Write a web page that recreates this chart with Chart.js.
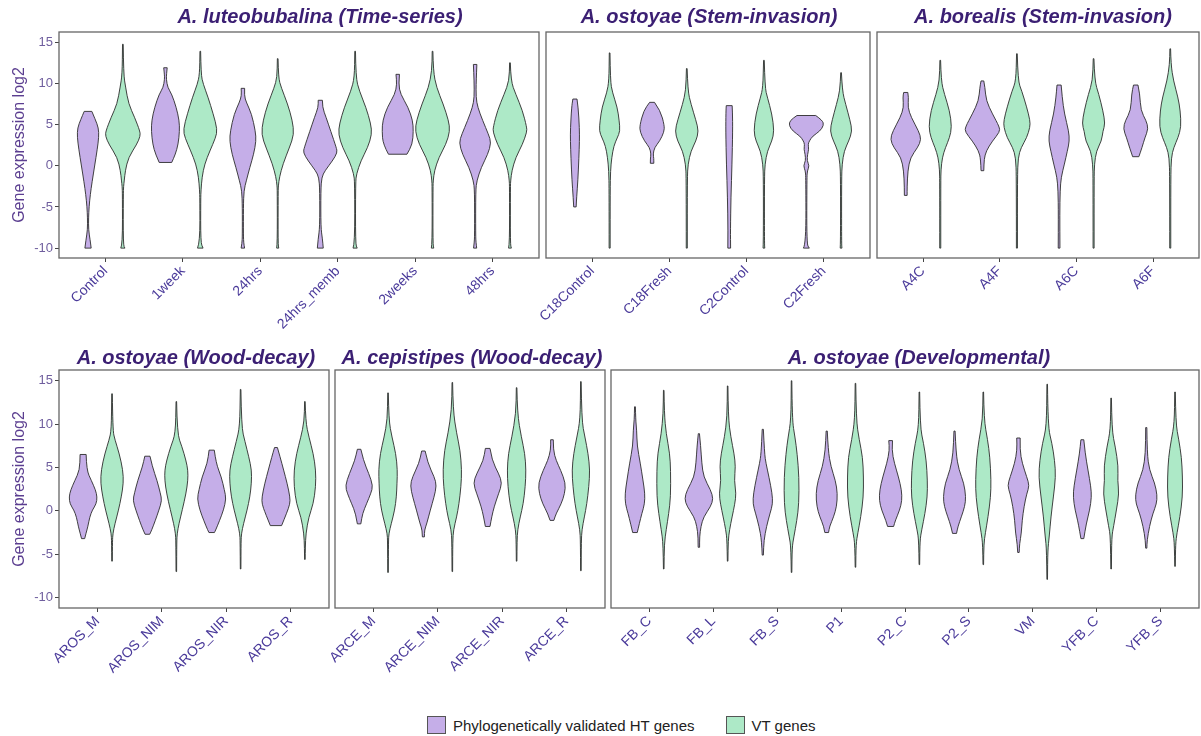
<!DOCTYPE html>
<html>
<head>
<meta charset="utf-8">
<script src="https://cdn.jsdelivr.net/npm/chart.js@4.4.1/dist/chart.umd.min.js"></script>
<style>
  body { margin: 0; background: #fff; width: 1201px; height: 736px; position: relative; overflow: hidden; font-family: "Liberation Sans", Arial, sans-serif; }
  canvas { position: absolute; }
  #legend { position: absolute; left: 427px; top: 716px; display: flex; align-items: center; font-size: 15px; color: #222; }
  #legend .sw { width: 17px; height: 16px; border: 1px solid #555; display: inline-block; }
  #legend .txt { margin-left: 7px; }
</style>
</head>
<body>
<div id="legend">
  <span class="sw" style="background:#c5aee8"></span><span class="txt">Phylogenetically validated HT genes</span>
  <span class="sw" style="background:#ade9c7;margin-left:31px"></span><span class="txt">VT genes</span>
</div>
<script>
// violin profiles: [log2 value, relative density width]

// A. luteobubalina (Time-series)
const lutCats = ['Control', '1week', '24hrs', '24hrs_memb', '2weeks', '48hrs'];
const lutHT = [
  [[-10,.18],[-9,.12],[-7.8,.03],[-6.3,.03],[-5,.06],[-3.5,.13],[-2,.23],[0,.38],[2,.53],[3.5,.62],[4.6,.6],[5.6,.42],[6.6,.22]],
  [[0.4,.36],[1.4,.57],[2.6,.73],[4.2,.81],[5.5,.79],[7.1,.62],[8.7,.36],[9.5,.13],[10.5,.05],[11.1,.06],[11.9,.1]],
  [[-10,.1],[-9.4,.05],[-8.5,.03],[-5,.03],[-3,.06],[-1.8,.2],[-0.2,.4],[1.4,.62],[3,.76],[4.2,.72],[6.3,.5],[7.7,.2],[8.5,.08],[9.4,.1]],
  [[-10,.17],[-8.8,.12],[-7.5,.03],[-3,.03],[-1.4,.08],[-0.6,.27],[0.6,.7],[1.6,.98],[2.2,.92],[4.2,.6],[5.9,.33],[7.1,.12],[7.95,.12]],
  [[1.4,.53],[2.6,.84],[4.2,.9],[5.5,.86],[7.1,.6],[8.7,.16],[9.9,.05],[11.1,.1]],
  [[-10,.09],[-9.3,.05],[-8.5,.03],[-3,.03],[-1.8,.1],[-0.2,.35],[1.4,.73],[2.8,.92],[3.8,.77],[5.5,.43],[7.1,.15],[8.3,.05],[10.3,.06],[12.3,.1]]
];
const lutVT = [
  [[-10,.12],[-9.6,.02],[-3.5,.025],[-2.5,.04],[-1.8,.08],[-0.6,.14],[1,.32],[2.6,.8],[3.6,1],[4.2,.98],[5.9,.67],[7.5,.33],[9.5,.16],[11.1,.04],[14.75,.02]],
  [[-10,.16],[-9.3,.02],[-4,.025],[-3,.04],[-1.4,.1],[0.2,.25],[1.8,.55],[3.4,.88],[4.4,.98],[6.3,.74],[8.3,.45],[9.9,.17],[11.1,.04],[13.9,.02]],
  [[-10,.06],[-9.5,.02],[-3,.025],[-2.4,.04],[-1.4,.1],[0.2,.3],[2.2,.67],[3.8,.94],[5.5,.84],[7.5,.57],[9.5,.2],[10.7,.04],[13,.02]],
  [[-10,.12],[-9.5,.02],[-2,.025],[-1,.08],[0.6,.33],[2.2,.72],[3.8,.96],[5.1,.9],[7.1,.62],[9.1,.24],[10.7,.04],[13.9,.02]],
  [[-10,.07],[-9.5,.02],[-2.5,.025],[-1.8,.04],[-0.6,.11],[1,.36],[2.6,.77],[4.2,1],[5.5,.92],[7.5,.61],[9.5,.23],[11.5,.04],[13.9,.02]],
  [[-10,.08],[-9.5,.02],[-2.5,.025],[-1.8,.04],[-0.6,.11],[1,.33],[2.6,.72],[4.1,.97],[4.7,.96],[6.7,.72],[8.7,.33],[10.3,.05],[12.5,.02]]
];

// A. ostoyae (Stem-invasion)
const ostStemCats = ['C18Control', 'C18Fresh', 'C2Control', 'C2Fresh'];
const ostStemHT = [
  [[-5,.07],[-3.8,.1],[-1.8,.17],[1,.23],[3,.26],[4.5,.26],[7.1,.19],[8.1,.12]],
  [[0.3,.1],[0.9,.1],[1.4,.06],[2.2,.14],[3,.44],[4.1,.69],[4.9,.71],[6.7,.48],[7.7,.14]],
  [[-10,.08],[-7.9,.07],[-3.8,.1],[0.2,.16],[4.2,.2],[6.5,.19],[7.3,.17]],
  [[-10,.17],[-9.5,.02],[-1.4,.03],[-0.6,.06],[0,.17],[0.6,.04],[1.4,.07],[2,.14],[2.6,.1],[3,.17],[3.6,.36],[4.2,.78],[4.9,1],[5.5,.94],[6.1,.54]]
];
const ostStemVT = [
  [[-10,.03],[-3,.03],[-0.6,.05],[1,.12],[2.4,.24],[3.4,.44],[4.2,.6],[5.5,.55],[7.1,.44],[8.9,.16],[10.3,.04],[13.7,.02]],
  [[-10,.03],[-1.5,.03],[0.2,.07],[1.8,.24],[3,.53],[4.2,.68],[5.5,.53],[7.5,.24],[9.1,.06],[11.8,.02]],
  [[-10,.05],[-9.5,.03],[-1.5,.03],[0.2,.06],[1.8,.2],[3,.46],[4.2,.59],[6.3,.46],[8.3,.2],[9.5,.06],[12.8,.02]],
  [[-10,.05],[-9.5,.03],[-1.5,.03],[0.2,.06],[1.8,.18],[3,.44],[4.2,.64],[5.5,.52],[7.5,.26],[9.1,.07],[11.3,.02]]
];

// A. borealis (Stem-invasion)
const borCats = ['A4C', 'A4F', 'A6C', 'A6F'];
const borHT = [
  [[-3.6,.08],[-2.6,.08],[-0.6,.12],[1,.27],[2.2,.69],[3.2,.9],[4.2,.75],[5.9,.31],[7.1,.12],[8.3,.17],[8.9,.12]],
  [[-0.6,.08],[0.8,.1],[1.8,.22],[3,.58],[4.1,1],[4.7,.99],[6.3,.58],[7.9,.22],[9.5,.15],[10.3,.08]],
  [[-10,.05],[-5.9,.04],[-3,.06],[-1.4,.12],[0.2,.31],[1.8,.48],[3,.6],[4.2,.56],[6.3,.31],[8.3,.18],[9.8,.12]],
  [[1.1,.18],[2.2,.36],[3.4,.53],[4.5,.73],[5.5,.6],[6.7,.29],[8.7,.24],[9.8,.13]]
];
const borVT = [
  [[-10,.03],[-2,.03],[-0.5,.04],[1,.12],[2.2,.3],[3.4,.54],[4.7,.67],[6.7,.54],[8.7,.24],[10.3,.05],[12.8,.02]],
  [[-10,.03],[-1.5,.03],[1,.07],[2.2,.24],[3.4,.57],[4.7,.76],[5.5,.76],[7.1,.57],[9.1,.28],[10.3,.06],[13.6,.02]],
  [[-10,.03],[-1.5,.03],[0.2,.05],[1.8,.16],[3,.46],[4.2,.54],[5.1,.67],[6.7,.54],[8.7,.3],[10.3,.06],[13,.02]],
  [[-10,.03],[-1.5,.03],[1,.06],[2.2,.2],[3.4,.45],[4.7,.63],[6.7,.58],[8.3,.45],[10.3,.19],[12.3,.04],[14.2,.02]]
];

// A. ostoyae (Wood-decay)
const ostWoodCats = ['AROS_M', 'AROS_NIM', 'AROS_NIR', 'AROS_R'];
const ostWoodHT = [
  [[-3.2,.11],[-2.6,.2],[-1.8,.33],[-0.7,.46],[0.1,.64],[0.8,.91],[1.6,.97],[2.4,.86],[3.5,.57],[4.7,.24],[6.5,.21]],
  [[-2.7,.16],[-2.2,.3],[-1.1,.55],[0.1,.8],[1.2,1],[2,.9],[3.5,.67],[5.1,.34],[6.3,.18]],
  [[-2.5,.19],[-2.2,.28],[-1.1,.55],[0.1,.82],[1.4,1],[2.4,.88],[3.9,.67],[5.5,.3],[7,.18]],
  [[-1.7,.39],[-0.3,.73],[0.8,.97],[1.6,.97],[3.2,.77],[4.7,.53],[6.2,.29],[7.3,.1]]
];
const ostWoodVT = [
  [[-5.8,.02],[-3.5,.03],[-2.6,.06],[-1.5,.2],[0.1,.45],[1.6,.64],[3.2,.79],[4.7,.75],[6.6,.5],[8.2,.2],[9.3,.05],[13.5,.02]],
  [[-7,.02],[-3.5,.03],[-2.6,.06],[-1.5,.18],[0.1,.41],[2,.67],[3.5,.8],[4.7,.8],[5.8,.67],[7.4,.39],[8.9,.06],[12.6,.02]],
  [[-6.7,.02],[-3.5,.03],[-2.6,.06],[-1.5,.2],[0.1,.45],[1.6,.64],[3.2,.75],[4.7,.76],[6.2,.57],[8,.3],[9.7,.06],[14,.02]],
  [[-5.6,.02],[-4.2,.03],[-2.6,.07],[-0.7,.27],[0.8,.58],[2.8,.75],[4.7,.75],[6.6,.58],[8.5,.28],[10.3,.05],[12.6,.02]]
];

// A. cepistipes (Wood-decay)
const cepCats = ['ARCE_M', 'ARCE_NIM', 'ARCE_NIR', 'ARCE_R'];
const cepHT = [
  [[-1.5,.12],[-0.3,.24],[0.8,.51],[2,.81],[2.9,.96],[4.3,.67],[5.8,.3],[7.1,.12]],
  [[-3,.07],[-2.2,.08],[-1.5,.23],[0.1,.48],[1.6,.74],[2.9,.91],[3.9,.76],[5.5,.3],[6.9,.12]],
  [[-1.8,.16],[-0.7,.28],[0.5,.45],[2,.76],[3.2,1],[4.3,.76],[5.8,.3],[7.2,.16]],
  [[-1.1,.13],[-0.3,.29],[0.8,.64],[2,.88],[3.2,.94],[4.7,.6],[5.8,.29],[7,.09],[8.2,.09]]
];
const cepVT = [
  [[-7.1,.02],[-3.5,.03],[-2.6,.06],[-1.5,.22],[0.1,.46],[1.6,.58],[3.2,.62],[4.7,.65],[6.6,.54],[8.5,.27],[10.5,.05],[13.6,.02]],
  [[-7,.02],[-3.5,.03],[-2.2,.08],[-0.7,.3],[0.8,.46],[2.8,.6],[4.7,.65],[7,.54],[8.9,.3],[11.6,.05],[14.8,.02]],
  [[-5.8,.02],[-3.5,.03],[-2.2,.07],[-0.7,.25],[0.8,.46],[2.8,.6],[4.7,.65],[6.6,.57],[8.5,.33],[11.2,.05],[14.2,.02]],
  [[-6.9,.02],[-3.5,.03],[-2.2,.07],[-0.7,.24],[0.8,.41],[2.8,.55],[4.7,.62],[6.6,.5],[8.5,.28],[10.5,.05],[14.9,.02]]
];

// A. ostoyae (Developmental)
const ostDevCats = ['FB_C', 'FB_L', 'FB_S', 'P1', 'P2_C', 'P2_S', 'VM', 'YFB_C', 'YFB_S'];
const ostDevHT = [
  [[-2.5,.16],[-1.5,.3],[-0.3,.48],[0.8,.67],[2,.69],[3.5,.56],[5.5,.37],[7.5,.15],[9.3,.12],[10.5,.05],[12,.03]],
  [[-4.2,.05],[-3,.05],[-1.8,.14],[-0.7,.33],[0.5,.82],[1.4,1],[2.4,.82],[3.9,.33],[5.5,.2],[7.4,.13],[8.9,.04]],
  [[-5.1,.04],[-3.4,.08],[-1.8,.26],[-0.3,.5],[0.8,.69],[2,.65],[3.9,.43],[5.5,.22],[6.6,.12],[9.4,.04]],
  [[-2.5,.13],[-1.8,.2],[-0.7,.48],[0.5,.69],[2,.75],[3.5,.61],[5.1,.29],[7,.1],[9.2,.04]],
  [[-1.8,.21],[-1.1,.33],[0.1,.63],[1.2,.79],[2.4,.76],[3.9,.55],[5.5,.26],[7,.08],[8.1,.13]],
  [[-2.6,.14],[-1.8,.24],[-0.7,.47],[0.5,.71],[1.6,.79],[3.2,.65],[4.7,.31],[6.6,.1],[9.2,.04]],
  [[-4.8,.05],[-3.8,.08],[-2.6,.2],[-1.1,.26],[0.5,.39],[2,.58],[2.9,.76],[3.9,.58],[5.5,.26],[7,.1],[8.4,.12]],
  [[-3.2,.1],[-1.5,.27],[0.1,.51],[1.6,.64],[2.8,.59],[4.7,.39],[6.6,.2],[8.2,.1]],
  [[-4.3,.04],[-3.4,.06],[-1.8,.22],[-0.3,.46],[0.8,.71],[1.8,.76],[3.2,.59],[4.7,.22],[6.6,.06],[9.6,.04]]
];
const ostDevVT = [
  [[-6.7,.02],[-3.8,.04],[-2.2,.17],[-0.3,.35],[1.6,.48],[4.7,.48],[6.6,.42],[8.9,.17],[11.2,.04],[13.9,.02]],
  [[-5.8,.02],[-3.4,.04],[-2.2,.13],[-0.7,.31],[0.8,.5],[2,.59],[3.5,.46],[5.1,.55],[6.6,.45],[8.5,.22],[10.8,.04],[14.4,.02]],
  [[-7.1,.02],[-4.2,.04],[-3,.16],[-1.1,.37],[0.8,.51],[3.9,.52],[6.6,.39],[8.5,.24],[10.5,.04],[15,.02]],
  [[-6.5,.02],[-3.8,.04],[-2.6,.16],[-0.7,.37],[1.6,.55],[3.9,.56],[6.2,.5],[8.2,.26],[10.5,.05],[14.7,.02]],
  [[-6.2,.02],[-3.4,.04],[-2.2,.16],[-0.3,.39],[1.6,.55],[3.5,.56],[5.8,.48],[7.8,.29],[9.7,.05],[13.7,.02]],
  [[-6.2,.02],[-3.8,.04],[-2.6,.14],[-0.7,.33],[1.6,.51],[3.5,.54],[6.2,.46],[8.2,.3],[10.5,.05],[13.7,.02]],
  [[-7.9,.02],[-4.5,.04],[-3,.14],[-0.7,.26],[1.6,.43],[3.9,.59],[5.8,.52],[7.8,.33],[9.7,.05],[14.6,.02]],
  [[-6.7,.02],[-3,.04],[-1.8,.17],[0.1,.37],[2,.55],[3.5,.45],[5.1,.5],[7.4,.29],[9.3,.05],[13,.02]],
  [[-6.4,.02],[-3.8,.04],[-2.6,.13],[-0.7,.34],[1.6,.52],[3.9,.52],[6.2,.45],[8.2,.26],[10.1,.05],[13.7,.02]]
];

const yTicks = [-10, -5, 0, 5, 10, 15];

const HT_FILL = '#c5aee8';
const VT_FILL = '#ade9c7';
const OUTLINE = 'rgba(45,45,45,0.9)';
const DODGE = 0.225;   // half of the 0.9 dodge width
const HALF_W = 0.225;  // max half-width of a violin in category units
const Y_MIN = -11.2, Y_MAX = 16.24;

Chart.defaults.font.family = '"Liberation Sans", Arial, sans-serif';

const panels = [
  {title: 'A. luteobubalina (Time-series)', cats: lutCats, ht: lutHT, vt: lutVT, box: [59, 32, 539, 258], tx: 320, ty: 17.5, yAxis: true},
  {title: 'A. ostoyae (Stem-invasion)', cats: ostStemCats, ht: ostStemHT, vt: ostStemVT, box: [546, 32, 870, 258], tx: 709, ty: 17.5},
  {title: 'A. borealis (Stem-invasion)', cats: borCats, ht: borHT, vt: borVT, box: [877, 32, 1199, 258], tx: 1043, ty: 17.5},
  {title: 'A. ostoyae (Wood-decay)', cats: ostWoodCats, ht: ostWoodHT, vt: ostWoodVT, box: [59, 370, 329, 608], tx: 196, ty: 358.5, yAxis: true},
  {title: 'A. cepistipes (Wood-decay)', cats: cepCats, ht: cepHT, vt: cepVT, box: [335, 370, 605, 608], tx: 472, ty: 358.5},
  {title: 'A. ostoyae (Developmental)', cats: ostDevCats, ht: ostDevHT, vt: ostDevVT, box: [611, 370, 1199, 608], tx: 919, ty: 358.5}
];

function smoothTo(ctx, p) {
  for (let i = 1; i < p.length - 1; i++) {
    ctx.quadraticCurveTo(p[i].x, p[i].y, (p[i].x + p[i + 1].x) / 2, (p[i].y + p[i + 1].y) / 2);
  }
  const last = p[p.length - 1];
  ctx.lineTo(last.x, last.y);
}

function drawViolin(ctx, xs, ys, center, prof, fill) {
  const L = prof.map(([v, w]) => ({x: xs.getPixelForValue(center - w * HALF_W), y: ys.getPixelForValue(v)}));
  const R = prof.map(([v, w]) => ({x: xs.getPixelForValue(center + w * HALF_W), y: ys.getPixelForValue(v)})).reverse();
  ctx.beginPath();
  ctx.moveTo(L[0].x, L[0].y);
  smoothTo(ctx, L);
  ctx.lineTo(R[0].x, R[0].y);
  smoothTo(ctx, R);
  ctx.closePath();
  ctx.fillStyle = fill;
  ctx.fill();
  ctx.lineWidth = 1;
  ctx.strokeStyle = OUTLINE;
  ctx.stroke();
}

const TOP = 32, XAX = 80, PAD = 6;

panels.forEach(p => {
  const [bl, bt, br, bb] = p.box;
  const left = p.yAxis ? 0 : bl - PAD;
  const top = bt - TOP;
  const canvas = document.createElement('canvas');
  canvas.width = br - left + PAD;
  canvas.height = TOP + (bb - bt) + XAX;
  canvas.style.left = left + 'px';
  canvas.style.top = top + 'px';
  document.body.appendChild(canvas);

  // violins, panel border and strip title
  const deco = {
    id: 'deco',
    afterDatasetsDraw(chart) {
      const {ctx, chartArea: a, scales: {x, y}} = chart;
      ctx.save();
      p.ht.forEach((prof, i) => drawViolin(ctx, x, y, i - DODGE, prof, HT_FILL));
      p.vt.forEach((prof, i) => drawViolin(ctx, x, y, i + DODGE, prof, VT_FILL));
      ctx.strokeStyle = '#666';
      ctx.lineWidth = 1.3;
      ctx.strokeRect(a.left, a.top, a.width, a.height);
      ctx.font = 'italic bold 20px "Liberation Sans", Arial, sans-serif';
      ctx.fillStyle = '#3b1f73';
      ctx.textAlign = 'center';
      ctx.textBaseline = 'middle';
      ctx.fillText(p.title, p.tx - left, p.ty - top);
      ctx.restore();
    }
  };

  new Chart(canvas, {
    type: 'scatter',
    data: {datasets: []},
    options: {
      responsive: false,
      animation: false,
      layout: {padding: {left: p.yAxis ? 0 : PAD, right: PAD, top: TOP, bottom: 0}},
      plugins: {legend: {display: false}, tooltip: {enabled: false}},
      scales: {
        x: {
          type: 'linear',
          min: -0.6,
          max: p.cats.length - 0.4,
          grid: {drawOnChartArea: false, drawTicks: true, tickLength: 4, color: '#444'},
          border: {display: false},
          ticks: {
            stepSize: 1, autoSkip: false, includeBounds: false,
            minRotation: 45, maxRotation: 45, padding: 1,
            color: '#4a3a9a', font: {size: 14},
            callback: v => p.cats[v] ?? ''
          },
          afterFit(s) { s.height = XAX; s.paddingLeft = 0; s.paddingRight = 0; }
        },
        y: {
          type: 'linear',
          display: !!p.yAxis,
          min: Y_MIN,
          max: Y_MAX,
          grid: {drawOnChartArea: false, drawTicks: true, tickLength: 4, color: '#444'},
          border: {display: false},
          afterBuildTicks(s) { s.ticks = yTicks.map(v => ({value: v})); },
          ticks: {color: '#6f5e9e', font: {size: 13}, padding: 2},
          title: {display: true, text: 'Gene expression log2', color: '#5b3e90', font: {size: 16}, padding: {top: 10, bottom: 0}},
          afterFit(s) { s.width = p.yAxis ? bl : 0; s.paddingTop = 0; s.paddingBottom = 0; }
        }
      }
    },
    plugins: [deco]
  });
});
</script>
</body>
</html>
